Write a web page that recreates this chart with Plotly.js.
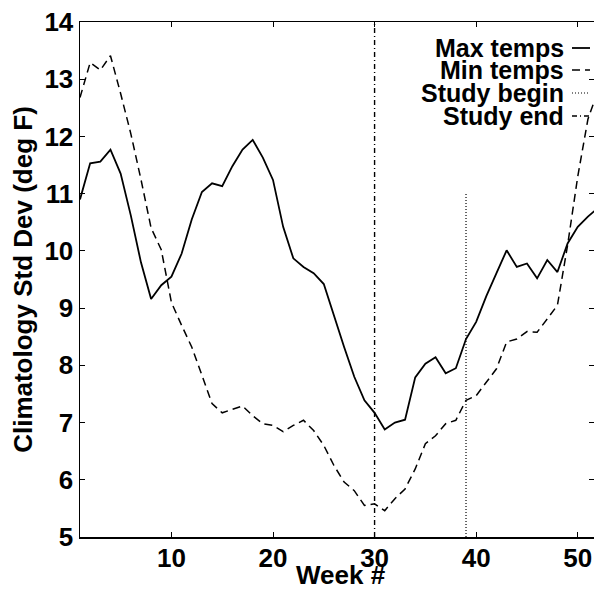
<!DOCTYPE html>
<html>
<head>
<meta charset="utf-8">
<script src="https://cdn.plot.ly/plotly-3.0.1.min.js"></script>
<style>html,body{margin:0;padding:0;background:#fff;}#chart{width:594px;height:592px;}</style>
</head>
<body>
<div id="chart"></div>
<script>
const weeks = [1,2,3,4,5,6,7,8,9,10,11,12,13,14,15,16,17,18,19,20,21,22,23,24,25,26,27,28,29,30,31,32,33,34,35,36,37,38,39,40,41,42,43,44,45,46,47,48,49,50,51,52];
const maxTemps = [10.90,11.53,11.56,11.77,11.35,10.62,9.80,9.16,9.40,9.55,9.95,10.55,11.03,11.18,11.13,11.48,11.77,11.94,11.63,11.24,10.42,9.87,9.72,9.61,9.42,8.86,8.32,7.80,7.39,7.17,6.88,7.00,7.05,7.79,8.03,8.14,7.86,7.95,8.46,8.76,9.21,9.61,10.01,9.72,9.78,9.52,9.84,9.63,10.13,10.42,10.60,10.75];
const minTemps = [12.68,13.29,13.16,13.41,12.75,12.05,11.25,10.40,10.02,9.10,8.70,8.32,7.83,7.33,7.17,7.23,7.29,7.12,6.98,6.95,6.84,6.95,7.04,6.86,6.60,6.25,5.96,5.81,5.55,5.58,5.46,5.67,5.84,6.19,6.63,6.77,6.98,7.04,7.39,7.47,7.71,7.94,8.41,8.46,8.59,8.58,8.81,9.05,10.10,11.30,12.30,12.80];
const studyBeginWeek = 39;
const studyBeginTop = 11;
const studyEndWeek = 30;
const studyEndTop = 14;
const yBottom = 5;
const legendLabels = ["Max temps","Min temps","Study begin","Study end"];
const xTicks = [10,20,30,40,50];
const xTitle = "Week #";
const yTitle = "Climatology Std Dev (deg F)";

const FONT = "Liberation Sans, Arial, Helvetica, sans-serif";
const dashes = ["solid","8px,5px","1px,2px","5px,3px,1px,3px"];
const widths = [1.8,1.5,1.2,1.4];

const traces = [
  {x: weeks, y: maxTemps, mode: "lines", line: {color: "#000", width: widths[0], dash: dashes[0]}, name: legendLabels[0]},
  {x: weeks, y: minTemps, mode: "lines", line: {color: "#000", width: widths[1], dash: dashes[1]}, name: legendLabels[1]},
  {x: [studyBeginWeek, studyBeginWeek], y: [yBottom, studyBeginTop], mode: "lines", line: {color: "#000", width: widths[2], dash: dashes[2]}, name: legendLabels[2]},
  {x: [studyEndWeek, studyEndWeek], y: [yBottom, studyEndTop], mode: "lines", line: {color: "#000", width: widths[3], dash: dashes[3]}, name: legendLabels[3]}
];

// legend built from annotations + sample lines (paper coords)
const plotL = 80, plotW = 514, plotT = 22, plotH = 515;
const rowY = [48, 70, 93, 116];
const annotations = [];
const shapes = [];
legendLabels.forEach((lab, i) => {
  const yp = 1 - (rowY[i] - plotT) / plotH;
  annotations.push({
    text: "<b>" + lab + "</b>", xref: "paper", yref: "paper",
    x: (566 - plotL) / plotW, y: yp, xanchor: "right", yanchor: "middle",
    showarrow: false, font: {family: FONT, size: 25, color: "#000"}
  });
  shapes.push({
    type: "line", xref: "paper", yref: "paper",
    x0: (572 - plotL) / plotW, x1: (590 - plotL) / plotW, y0: yp, y1: yp,
    line: {color: "#000", width: widths[i], dash: dashes[i]}
  });
});
// x-axis title, placed tight under tick labels as in the original
annotations.push({
  text: "<b>" + xTitle + "</b>", xref: "paper", yref: "paper",
  x: (341 - plotL) / plotW, y: 1 - (575 - plotT) / plotH, xanchor: "center", yanchor: "middle",
  showarrow: false, font: {family: FONT, size: 26, color: "#000"}
});

const layout = {
  width: 594, height: 592,
  margin: {l: 80, r: 0, t: 22, b: 55},
  paper_bgcolor: "#fff", plot_bgcolor: "#fff",
  showlegend: false,
  font: {family: FONT, color: "#000"},
  xaxis: {
    range: [1, 51.6], tickvals: xTicks, ticktext: xTicks.map(v => "<b>" + v + "</b>"),
    ticks: "inside", ticklen: 5, tickcolor: "#000", ticklabelstandoff: -3,
    showline: true, linecolor: "#000", linewidth: 1.5, mirror: "ticks",
    showgrid: false, zeroline: false,
    tickfont: {family: FONT, size: 26, color: "#000"},
    automargin: false
  },
  yaxis: {
    range: [5, 14], dtick: 1, ticks: "inside", ticklen: 5, tickcolor: "#000",
    showline: true, linecolor: "#000", linewidth: 1.5, mirror: "ticks",
    showgrid: false, zeroline: false,
    tickfont: {family: FONT, size: 26, color: "#000", weight: "bold"},
    title: {text: "<b>" + yTitle + "</b>", font: {family: FONT, size: 26, color: "#000"}, standoff: 4},
    automargin: false
  },
  annotations: annotations,
  shapes: shapes
};

Plotly.newPlot("chart", traces, layout, {staticPlot: true, displayModeBar: false});
</script>
</body>
</html>
